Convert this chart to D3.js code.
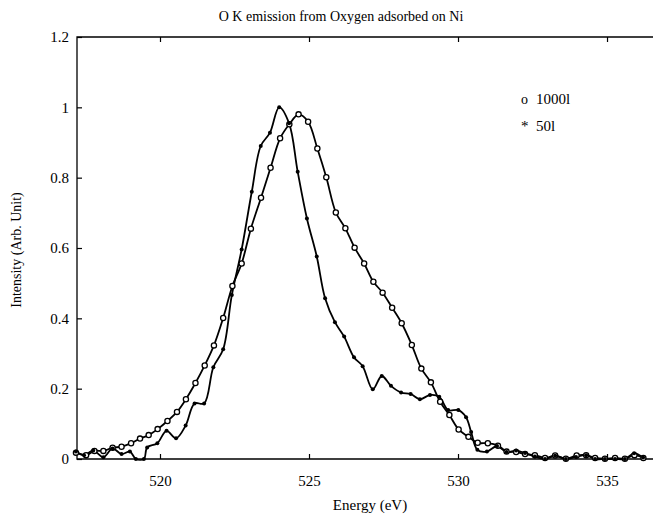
<!DOCTYPE html>
<html>
<head>
<meta charset="utf-8">
<script src="https://cdn.jsdelivr.net/npm/d3@7"></script>
<style>
  body { margin: 0; background: #fff; }
  text { font-family: "Liberation Serif", "DejaVu Serif", serif; fill: #000; }
</style>
</head>
<body>
<div id="chart"></div>
<script>
// exposure 1000l (open circles)
const energyA = [517.18, 517.52, 517.80, 518.10, 518.41, 518.71, 519.03, 519.33, 519.62, 519.92,
  520.25, 520.57, 520.87, 521.19, 521.50, 521.81, 522.12, 522.43, 522.74, 523.05,
  523.39, 523.71, 524.03, 524.34, 524.65, 524.97, 525.28, 525.58, 525.90, 526.22,
  526.53, 526.85, 527.16, 527.47, 527.79, 528.11, 528.45, 528.77, 529.09, 529.40,
  529.71, 530.02, 530.35, 530.66, 531.00, 531.34, 531.63, 531.95, 532.25, 532.58,
  532.92, 533.26, 533.62, 533.98, 534.30, 534.60, 534.93, 535.27, 535.60, 535.92, 536.22];
const intensA = [0.018, 0.011, 0.023, 0.023, 0.032, 0.035, 0.045, 0.058, 0.068, 0.085,
  0.108, 0.134, 0.170, 0.216, 0.266, 0.323, 0.401, 0.492, 0.556, 0.655,
  0.743, 0.828, 0.912, 0.952, 0.980, 0.959, 0.883, 0.801, 0.701, 0.656,
  0.601, 0.556, 0.504, 0.473, 0.430, 0.386, 0.324, 0.257, 0.218, 0.163,
  0.125, 0.084, 0.063, 0.046, 0.045, 0.038, 0.021, 0.020, 0.014, 0.011,
  0.003, 0.010, 0.001, 0.010, 0.011, 0.003, 0.001, 0.003, 0.001, 0.011, 0.003];

// exposure 50l (dots)
const energyB = [517.18, 517.45, 517.76, 518.10, 518.41, 518.71, 518.99, 519.19, 519.46, 519.57,
  519.91, 520.22, 520.54, 520.86, 521.16, 521.48, 521.79, 522.12, 522.41, 522.74,
  523.08, 523.38, 523.69, 524.00, 524.33, 524.62, 524.93, 525.26, 525.54, 525.87,
  526.18, 526.51, 526.80, 527.14, 527.44, 527.75, 528.09, 528.41, 528.72, 529.06,
  529.37, 529.67, 530.01, 530.27, 530.44, 530.65, 530.97, 531.31, 531.63, 531.95,
  532.25, 532.58, 532.92, 533.26, 533.62, 533.96, 534.30, 534.60, 534.93, 535.27,
  535.60, 535.91, 536.21];
const intensB = [0.021, 0.011, 0.024, 0.005, 0.030, 0.014, 0.021, 0.000, 0.000, 0.033,
  0.045, 0.080, 0.059, 0.095, 0.158, 0.158, 0.261, 0.312, 0.466, 0.596,
  0.760, 0.890, 0.928, 1.000, 0.955, 0.817, 0.684, 0.576, 0.457, 0.389,
  0.348, 0.289, 0.264, 0.198, 0.236, 0.208, 0.189, 0.185, 0.170, 0.182,
  0.177, 0.139, 0.139, 0.119, 0.077, 0.026, 0.021, 0.037, 0.020, 0.024,
  0.017, 0.007, 0.000, 0.009, 0.000, 0.006, 0.011, 0.000, 0.000, 0.000,
  0.000, 0.016, 0.004];

const xTicks = [520, 525, 530, 535];
const yTicks = [0, 0.2, 0.4, 0.6, 0.8, 1, 1.2];

const width = 653, height = 518;
const margin = { top: 37, right: -2, bottom: 59, left: 77 };

const svg = d3.select("#chart").append("svg")
  .attr("width", width)
  .attr("height", height);

const x = d3.scaleLinear()
  .domain([517.215, 536.61])
  .range([margin.left, width - margin.right]);
const y = d3.scaleLinear()
  .domain([0, 1.2])
  .range([height - margin.bottom, margin.top]);

// frame
svg.append("path")
  .attr("d", `M${x.range()[1]},${y(0)}H${x.range()[0]}V${y(1.2)}H${x.range()[1]}`)
  .attr("fill", "none")
  .attr("stroke", "#000")
  .attr("stroke-width", 1.3);

// axes, ticks pointing inward
const bottomAxis = svg.append("g")
  .attr("transform", `translate(0,${y(0)})`)
  .call(d3.axisBottom(x).tickValues(xTicks).tickSizeInner(-5).tickSizeOuter(0).tickPadding(16));
const topAxis = svg.append("g")
  .attr("transform", `translate(0,${y(1.2)})`)
  .call(d3.axisTop(x).tickValues(xTicks).tickSizeInner(-5).tickSizeOuter(0).tickFormat(""));
const leftAxis = svg.append("g")
  .attr("transform", `translate(${x.range()[0]},0)`)
  .call(d3.axisLeft(y).tickValues(yTicks).tickSizeInner(-5).tickSizeOuter(0).tickPadding(8)
    .tickFormat((d) => d3.format("~g")(d)));

[bottomAxis, topAxis, leftAxis].forEach((a) => {
  a.select(".domain").remove();
  a.selectAll("line").attr("stroke", "#000").attr("stroke-width", 1.2);
  a.selectAll("text")
    .style("font-family", "'Liberation Serif', serif")
    .style("font-size", "15px")
    .attr("fill", "#000");
});

// curves
const line = d3.line()
  .x((d) => x(d[0]))
  .y((d) => y(d[1]))
  .curve(d3.curveCatmullRom.alpha(0.5));

const seriesA = energyA.map((e, i) => [e, intensA[i]]);
const seriesB = energyB.map((e, i) => [e, intensB[i]]);

svg.append("path")
  .datum(seriesB)
  .attr("d", line)
  .attr("fill", "none")
  .attr("stroke", "#000")
  .attr("stroke-width", 1.8);
svg.append("path")
  .datum(seriesA)
  .attr("d", line)
  .attr("fill", "none")
  .attr("stroke", "#000")
  .attr("stroke-width", 1.8);

svg.append("g").selectAll("circle")
  .data(seriesA)
  .join("circle")
  .attr("cx", (d) => x(d[0]))
  .attr("cy", (d) => y(d[1]))
  .attr("r", 2.6)
  .attr("fill", "#fff")
  .attr("stroke", "#000")
  .attr("stroke-width", 1.3);

svg.append("g").selectAll("circle")
  .data(seriesB)
  .join("circle")
  .attr("cx", (d) => x(d[0]))
  .attr("cy", (d) => y(d[1]))
  .attr("r", 2)
  .attr("fill", "#000");

// legend
svg.append("text").attr("x", 521).attr("y", 104).style("font-size", "14px").text("o");
svg.append("text").attr("x", 536).attr("y", 104).style("font-size", "15px").text("1000l");
svg.append("text").attr("x", 521).attr("y", 131).style("font-size", "15px").text("*");
svg.append("text").attr("x", 536).attr("y", 131).style("font-size", "15px").text("50l");

// titles
svg.append("text")
  .attr("x", 341).attr("y", 21)
  .attr("text-anchor", "middle")
  .style("font-size", "14px")
  .text("O K emission from Oxygen adsorbed on Ni");
svg.append("text")
  .attr("x", 370).attr("y", 510)
  .attr("text-anchor", "middle")
  .style("font-size", "15px")
  .text("Energy (eV)");
svg.append("text")
  .attr("transform", "translate(21,250) rotate(-90)")
  .attr("text-anchor", "middle")
  .style("font-size", "14px")
  .text("Intensity (Arb. Unit)");
</script>
</body>
</html>
